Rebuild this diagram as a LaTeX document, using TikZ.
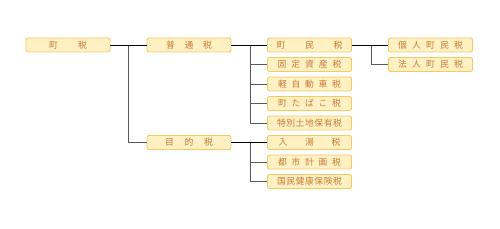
\documentclass[tikz,border=0pt]{standalone}
\usepackage{fontspec}
\newfontfamily\jpfont{Noto Sans CJK JP}
\definecolor{boxfill}{HTML}{FFF1C4}
\definecolor{boxborder}{HTML}{F8C95C}
\definecolor{boxtext}{HTML}{C97A35}
\definecolor{linegray}{HTML}{5A5A5A}
\newcommand{\spr}[2]{\makebox[#1pt][s]{#2}}
\begin{document}
\begin{tikzpicture}[x=1pt,y=-1pt,
  taxbox/.style={draw=boxborder, fill=boxfill, rounded corners=2pt, line width=0.9pt,
    minimum width=84pt, minimum height=14pt, inner sep=0pt, text=boxtext,
    font=\jpfont\fontsize{8.8}{9}\selectfont},
  mainline/.style={draw=black, line width=0.95pt},
  subline/.style={draw=linegray, line width=0.95pt}]
\useasboundingbox (0,0) rectangle (500,229);
% nodes
\node[taxbox] (cho) at (68,45) {\spr{38}{町\hfill 税}};
\node[taxbox] (futsu) at (189,45) {\spr{46}{普\hfill 通\hfill 税}};
\node[taxbox] (mokuteki) at (189,142.5) {\spr{48}{目\hfill 的\hfill 税}};
\node[taxbox] (chomin) at (309.5,45) {\spr{66}{町\hfill 民\hfill 税}};
\node[taxbox] (kotei) at (309.5,64.5) {\spr{64}{固\hfill 定\hfill 資\hfill 産\hfill 税}};
\node[taxbox] (kei) at (309.5,84) {\spr{63}{軽\hfill 自\hfill 動\hfill 車\hfill 税}};
\node[taxbox] (tabako) at (309.5,103.5) {\spr{63}{町\hfill た\hfill ば\hfill こ\hfill 税}};
\node[taxbox] (tokubetsu) at (309.5,123) {\spr{65}{特\hfill 別\hfill 土\hfill 地\hfill 保\hfill 有\hfill 税}};
\node[taxbox] (nyuto) at (309.5,142.5) {\spr{62}{入\hfill 湯\hfill 税}};
\node[taxbox] (toshi) at (309.5,162) {\spr{63}{都\hfill 市\hfill 計\hfill 画\hfill 税}};
\node[taxbox] (kokuho) at (309.5,181.5) {\spr{65}{国\hfill 民\hfill 健\hfill 康\hfill 保\hfill 険\hfill 税}};
\node[taxbox] (kojin) at (430.5,45) {\spr{65}{個\hfill 人\hfill 町\hfill 民\hfill 税}};
\node[taxbox] (hojin) at (430.5,64.5) {\spr{65}{法\hfill 人\hfill 町\hfill 民\hfill 税}};
% junctions
\coordinate (j1) at (128.5,45);
\coordinate (j2) at (250,45);
\coordinate (j3) at (250,142.5);
\coordinate (j4) at (371,45);
% connectors
\draw[subline] (j1) |- (mokuteki.west);
\draw[subline] (j2) |- (kotei.west);
\draw[subline] (j2) |- (kei.west);
\draw[subline] (j2) |- (tabako.west);
\draw[subline] (j2) |- (tokubetsu.west);
\draw[subline] (j3) |- (toshi.west);
\draw[subline] (j3) |- (kokuho.west);
\draw[subline] (j4) |- (hojin.west);
\draw[mainline] (cho.east) -- (futsu.west);
\draw[mainline] (futsu.east) -- (chomin.west);
\draw[mainline] (mokuteki.east) -- (nyuto.west);
\draw[mainline] (chomin.east) -- (kojin.west);
\end{tikzpicture}
\end{document}
